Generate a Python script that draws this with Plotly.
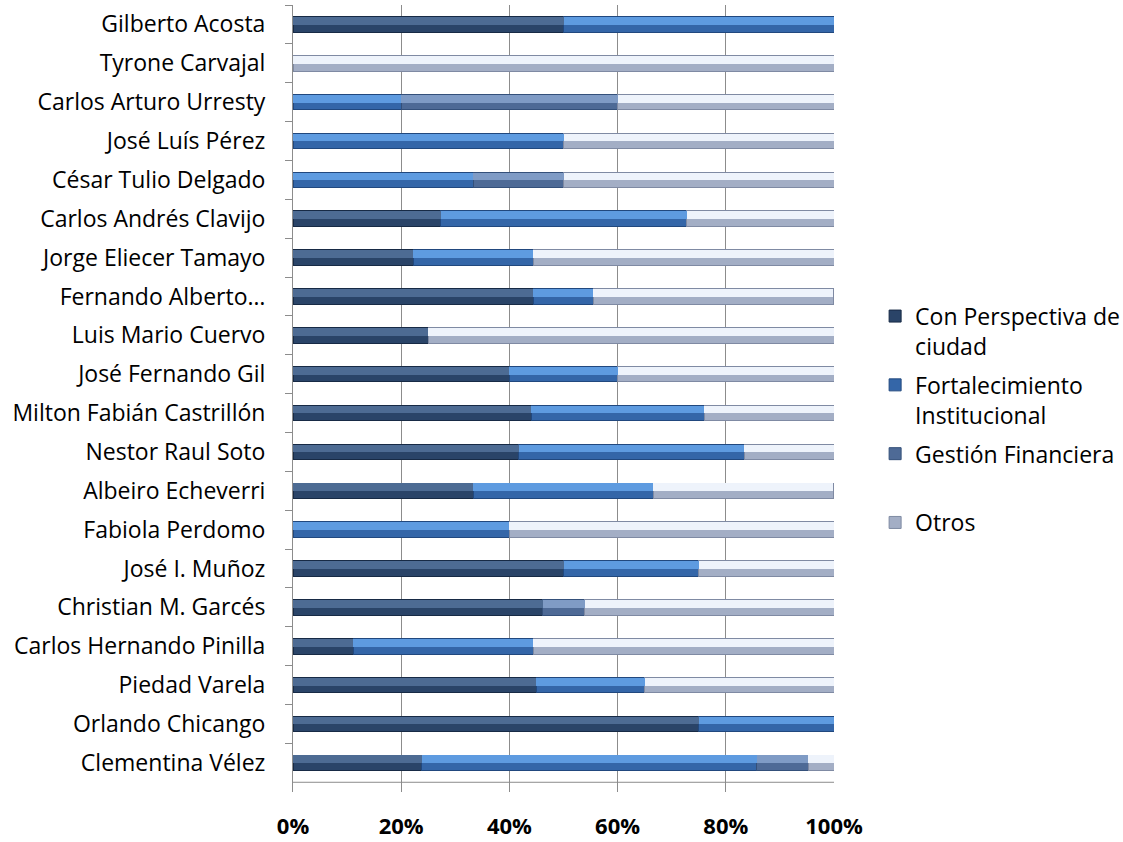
import plotly.graph_objects as go

categories = [
    "Gilberto Acosta", "Tyrone Carvajal", "Carlos Arturo Urresty", "José Luís Pérez",
    "César Tulio Delgado", "Carlos Andrés Clavijo", "Jorge Eliecer Tamayo",
    "Fernando Alberto…", "Luis Mario Cuervo", "José Fernando Gil",
    "Milton Fabián Castrillón", "Nestor Raul Soto", "Albeiro Echeverri",
    "Fabiola Perdomo", "José I. Muñoz", "Christian M. Garcés",
    "Carlos Hernando Pinilla", "Piedad Varela", "Orlando Chicango", "Clementina Vélez",
]

con_perspectiva = [50, 0, 0, 0, 0, 27.3, 22.2, 44.4, 25, 40, 44, 41.7, 33.3, 0, 50, 46.2, 11.1, 45, 75, 23.8]
fortalecimiento = [50, 0, 20, 50, 33.3, 45.5, 22.2, 11.1, 0, 20, 32, 41.7, 33.3, 40, 25, 0, 33.3, 20, 25, 61.9]
gestion_fin = [0, 0, 40, 0, 16.7, 0, 0, 0, 0, 0, 0, 0, 0, 0, 0, 7.7, 0, 0, 0, 9.5]
otros = [0, 100, 40, 50, 50, 27.3, 55.6, 44.4, 75, 40, 24, 16.7, 33.3, 60, 25, 46.2, 55.6, 35, 0, 4.8]

series_names = ["Con Perspectiva de<br>ciudad", "Fortalecimiento<br>Institucional",
                "Gestión Financiera<br> ", "Otros"]
series_values = [con_perspectiva, fortalecimiento, gestion_fin, otros]
base_colors = ["#2a4468", "#3466a8", "#4e6a96", "#a3aec5"]
light_colors = ["#4d6b93", "#5e9be0", "#7f9bc5", "#eef3fb"]
edge_colors = ["#172a45", "#21487e", "#34507a", "#7f8aa3"]

FONT = "Open Sans"

fig = go.Figure()
# main bars
for i, (name, vals) in enumerate(zip(series_names, series_values)):
    fig.add_trace(go.Bar(
        y=categories, x=vals, name=name, orientation="h",
        width=0.4,
        marker=dict(color=base_colors[i], line=dict(color=edge_colors[i], width=1)),
        legendgroup=str(i),
    ))
# bevel highlight on the upper half of each segment (overlay axis, same data)
for i, (name, vals) in enumerate(zip(series_names, series_values)):
    fig.add_trace(go.Bar(
        y=categories, x=vals, orientation="h", yaxis="y2",
        width=0.2, offset=-0.19,
        marker=dict(color=light_colors[i], line=dict(width=0)),
        showlegend=False, hoverinfo="skip", legendgroup=str(i),
    ))

fig.add_shape(type="line", xref="x", yref="y", x0=0, x1=100, y0=19.5, y1=19.5,
              line=dict(color="#8c8c8c", width=1))

fig.update_layout(
    barmode="stack",
    width=1123, height=842,
    margin=dict(l=293, r=289, t=5, b=50, autoexpand=False),
    paper_bgcolor="white", plot_bgcolor="white",
    font=dict(family=FONT, size=23, color="#000000"),
    showlegend=True,
    legend=dict(
        x=1.076, xanchor="left", y=0.632, yanchor="top",
        font=dict(family=FONT, size=23, color="#000000"),
        valign="top", tracegroupgap=6, traceorder="grouped",
        itemwidth=30,
    ),
    xaxis=dict(
        range=[0, 100], tickvals=[0, 20, 40, 60, 80, 100],
        ticktext=["0%", "20%", "40%", "60%", "80%", "100%"],
        showgrid=True, gridcolor="#8c8c8c", gridwidth=1,
        zeroline=False, showline=False, ticks="",
        tickfont=dict(family=FONT, size=22, color="#000000", weight="bold"),
        ticklabelstandoff=19,
    ),
    yaxis=dict(
        type="category", categoryorder="array", categoryarray=categories,
        range=[19.75, -0.5],
        showline=True, linecolor="#8c8c8c", linewidth=1,
        ticks="outside", ticklen=7, tickcolor="#8c8c8c", tickson="boundaries",
        showgrid=False, zeroline=False,
        tickfont=dict(family=FONT, size=23, color="#000000"),
        ticklabelstandoff=22,
    ),
    yaxis2=dict(
        type="category", categoryorder="array", categoryarray=categories,
        range=[19.75, -0.5], overlaying="y", visible=False,
        showgrid=False, zeroline=False,
    ),
)

fig.write_html("out.html", config={"displayModeBar": False},
               post_script="document.body.style.margin='0';")
